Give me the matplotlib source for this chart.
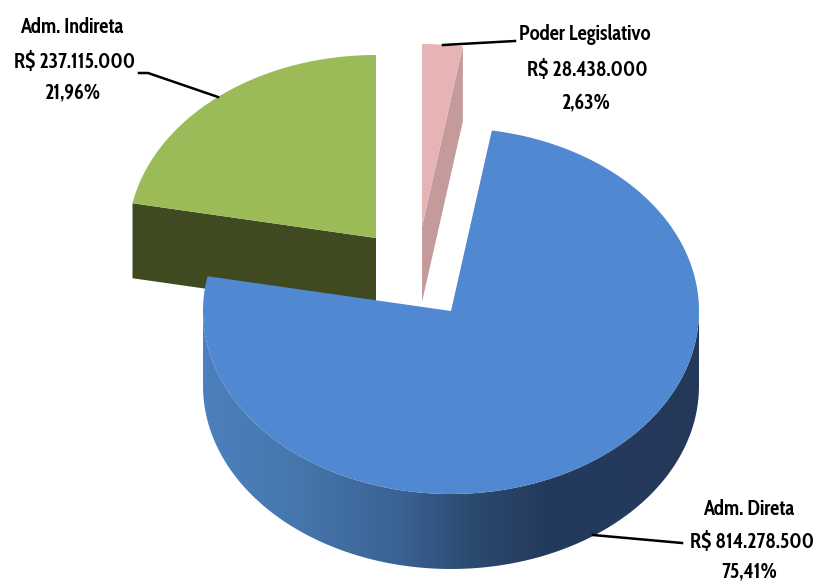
#!/usr/bin/env python3
"""
Exploded 3D style pie: budget split between Adm. Direta, Adm. Indireta and Poder Legislativo
"""

import numpy as np
import matplotlib
matplotlib.use('Agg')
import matplotlib.pyplot as plt
from matplotlib.patches import PathPatch
from matplotlib.path import Path

# Data
names = ['Poder Legislativo', 'Adm. Direta', 'Adm. Indireta']
values = [28438000, 814278500, 237115000]
value_labels = ['R$ 28.438.000', 'R$ 814.278.500', 'R$ 237.115.000']
pct_labels = ['2,63%', '75,41%', '21,96%']

# Colours
top_colors = ['#E6B4B4', '#5088D1', '#9BBB59']
side_colors = ['#C59A9A', None, '#404A20']
grad_x = [203, 300, 400, 470, 540, 702]
grad_r = [76, 70, 58, 44, 37, 36]
grad_g = [128, 118, 98, 74, 59, 57]
grad_b = [190, 172, 148, 112, 94, 90]

# Geometry, in image pixels
W, H = 814, 584
RX, RY, DEPTH = 248, 183, 75
centers = [(422, 227), (451, 311), (376, 238)]
layers = [3, 4, 2]  # blue sits on top of the other two

plt.rcParams['font.family'] = ['Cabin Condensed', 'Asap Condensed', 'Liberation Sans', 'DejaVu Sans']

fig = plt.figure(figsize=(W / 100, H / 100), dpi=100)
ax = fig.add_axes([0, 0, 1, 1])


def rim(center, a0, a1, drop=0):
    # points along the ellipse, angle clockwise from 12 o'clock
    t = np.radians(np.linspace(a0, a1, 200))
    return np.column_stack([center[0] + RX * np.sin(t), center[1] - RY * np.cos(t) + drop])


# Slice angles come straight from the values
fracs = np.array(values) / sum(values)
edges = np.concatenate([[0], np.cumsum(fracs) * 360])

for i in range(3):
    c = centers[i]
    a0, a1 = edges[i], edges[i + 1]
    z = layers[i]
    top_edge = rim(c, a0, a1)

    if i == 1:
        # outer wall of the big slice, with a left to right gradient
        wall = np.vstack([rim(c, 90, 270), rim(c, 90, 270, DEPTH)[::-1]])
        patch = PathPatch(Path(np.vstack([wall, wall[0]])), fc='none', ec='none')
        ax.add_patch(patch)
        xs = np.arange(W)
        grad = np.column_stack([np.interp(xs, grad_x, grad_r),
                                np.interp(xs, grad_x, grad_g),
                                np.interp(xs, grad_x, grad_b)]) / 255
        img = ax.imshow(grad[np.newaxis, :, :], extent=[0, W, H, 0], aspect='auto', zorder=z)
        img.set_clip_path(patch)
    elif i == 2:
        # cut face seen from the front
        low = rim(c, a0, a1, DEPTH)
        ax.fill([low[0, 0], top_edge[0, 0], c[0], c[0]],
                [low[0, 1], top_edge[0, 1], c[1], c[1] + DEPTH],
                color=side_colors[i], lw=0, zorder=z)
    else:
        # thin slice: only its right cut face shows
        ax.fill([c[0], top_edge[-1, 0], top_edge[-1, 0], c[0]],
                [c[1], top_edge[-1, 1], top_edge[-1, 1] + DEPTH, c[1] + DEPTH],
                color=side_colors[i], lw=0, zorder=z)

    face = np.vstack([[c], top_edge])
    ax.fill(face[:, 0], face[:, 1], color=top_colors[i], lw=0, zorder=z + 0.5)

# Leader lines
ax.plot([139, 148, 218], [73, 73, 97], color='black', lw=1.8, zorder=8)
ax.plot([443, 515], [45, 41], color='black', lw=1.8, zorder=8)
ax.plot([593, 682], [535, 543], color='black', lw=1.8, zorder=8)

# Labels, one text per line, placed by baseline
label_x = [[585, 587, 586], [749, 752, 749], [72, 75, 72]]
label_y = [[40, 76, 110], [515, 548, 578], [33, 68, 100]]
for i in range(3):
    lines = [names[i], value_labels[i], pct_labels[i]]
    for line, x, y in zip(lines, label_x[i], label_y[i]):
        ax.text(x, y, line, ha='center', va='baseline', fontsize=14.8,
                fontweight='bold', color='black', zorder=9)

ax.set_xlim(0, W)
ax.set_ylim(H, 0)
ax.axis('off')

plt.savefig('out.png', dpi=100)
